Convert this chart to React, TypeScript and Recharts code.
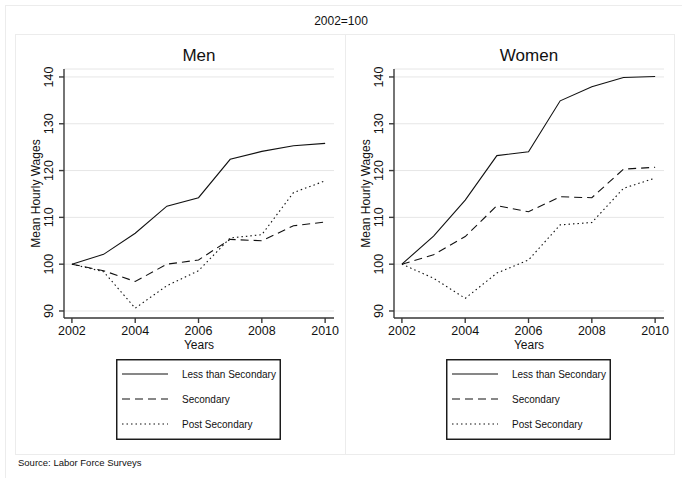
import React from 'react';
import { LineChart, Line, XAxis, YAxis, CartesianGrid } from 'recharts';

const years = [2002, 2003, 2004, 2005, 2006, 2007, 2008, 2009, 2010];

// wage index, 2002 = 100
const menLessSecondary = [100, 102.1, 106.6, 112.4, 114.2, 122.4, 124.1, 125.3, 125.8];
const menSecondary = [100, 98.6, 96.3, 100.0, 100.9, 105.3, 105.0, 108.2, 109.0];
const menPostSecondary = [100, 98.4, 90.6, 95.4, 98.6, 105.6, 106.3, 115.3, 117.8];

const womenLessSecondary = [100, 106.0, 113.7, 123.2, 124.0, 134.9, 137.9, 139.9, 140.1];
const womenSecondary = [100, 102.0, 105.9, 112.5, 111.2, 114.4, 114.2, 120.3, 120.7];
const womenPostSecondary = [100, 97.0, 92.7, 98.1, 100.9, 108.4, 108.9, 116.2, 118.4];

const xTicks = [2002, 2004, 2006, 2008, 2010];
const yTicks = [90, 100, 110, 120, 130, 140];

const seriesNames = ['Less than Secondary', 'Secondary', 'Post Secondary'];
const seriesDash = ['0', '8 5', '1.5 3'];

const FONT = '"Liberation Sans", Arial, Helvetica, sans-serif';
const INK = '#111';
const AXIS = '#3a3a3a';

function buildRows(a: number[], b: number[], c: number[]) {
  return years.map((year, i) => ({ year, s0: a[i], s1: b[i], s2: c[i] }));
}

const YTick = (props: any) => {
  const { x, y, payload } = props;
  return (
    <text
      x={x - 6}
      y={y}
      transform={`rotate(-90 ${x - 6} ${y})`}
      textAnchor="middle"
      fontSize={12.5}
      fontFamily={FONT}
      fill={INK}
    >
      {payload.value}
    </text>
  );
};

function Panel({ title, rows }: { title: string; rows: any[] }) {
  return (
    <div style={{ position: 'relative', width: 330, height: 421 }}>
      <div
        style={{
          position: 'absolute',
          top: 12,
          left: 49,
          width: 270,
          textAlign: 'center',
          fontSize: 17,
          fontFamily: FONT,
          color: INK,
        }}
      >
        {title}
      </div>
      <LineChart width={330} height={421} data={rows} margin={{ top: 35, right: 11, bottom: 97, left: 0 }}>
        <CartesianGrid vertical={false} stroke="#e6e6e6" strokeWidth={1} />
        <XAxis
          dataKey="year"
          type="number"
          domain={[2001.75, 2010.28]}
          ticks={xTicks}
          allowDataOverflow
          height={40}
          tickSize={5}
          tickMargin={3}
          stroke={AXIS}
          strokeWidth={1.4}
          tick={{ fill: INK, fontSize: 12.5, fontFamily: FONT }}
          label={{
            content: (p: any) => {
              const vb = p.viewBox;
              return (
                <text
                  x={vb.x + vb.width / 2}
                  y={vb.y + 27}
                  textAnchor="middle"
                  dominantBaseline="central"
                  fontSize={12}
                  fontFamily={FONT}
                  fill={INK}
                >
                  Years
                </text>
              );
            },
          }}
        />
        <YAxis
          type="number"
          domain={[88.5, 141.7]}
          ticks={yTicks}
          allowDataOverflow
          width={49}
          tickSize={5}
          tickMargin={0}
          stroke={AXIS}
          strokeWidth={1.4}
          tick={YTick}
          label={{
            content: (p: any) => {
              const vb = p.viewBox;
              const cy = vb.y + vb.height / 2;
              return (
                <text
                  x={21}
                  y={cy}
                  transform={`rotate(-90 21 ${cy})`}
                  textAnchor="middle"
                  dominantBaseline="central"
                  fontSize={12}
                  fontFamily={FONT}
                  fill={INK}
                >
                  Mean Hourly Wages
                </text>
              );
            },
          }}
        />
        {seriesNames.map((name, i) => (
          <Line
            key={name}
            name={name}
            dataKey={`s${i}`}
            type="linear"
            stroke={INK}
            strokeWidth={1.1}
            strokeDasharray={seriesDash[i]}
            dot={false}
            activeDot={false}
            isAnimationActive={false}
          />
        ))}
      </LineChart>
      <div style={{ position: 'absolute', left: 101, top: 325 }}>
        <svg width={165} height={81}>
          <rect x={0.75} y={0.75} width={163.5} height={79.5} fill="#fff" stroke={INK} strokeWidth={1.4} />
          {seriesNames.map((name, i) => {
            const ry = 15 + i * 25;
            return (
              <g key={name}>
                <line x1={6} x2={52} y1={ry} y2={ry} stroke={INK} strokeWidth={1.1} strokeDasharray={seriesDash[i]} />
                <text x={66} y={ry} dominantBaseline="central" fontSize={10} fontFamily={FONT} fill={INK}>
                  {name}
                </text>
              </g>
            );
          })}
        </svg>
      </div>
    </div>
  );
}

export default function App() {
  const menRows = buildRows(menLessSecondary, menSecondary, menPostSecondary);
  const womenRows = buildRows(womenLessSecondary, womenSecondary, womenPostSecondary);

  return (
    <div
      style={{
        position: 'absolute',
        left: 0,
        top: 0,
        width: 682,
        height: 478,
        background: '#fff',
        overflow: 'hidden',
        fontFamily: FONT,
      }}
    >
      <div
        style={{
          position: 'absolute',
          left: 5,
          top: 5,
          width: 700,
          height: 500,
          borderTop: '1px solid #ececec',
          borderLeft: '1px solid #ececec',
        }}
      />
      <div
        style={{
          position: 'absolute',
          top: 14,
          left: 0,
          width: 682,
          textAlign: 'center',
          fontSize: 12,
          color: INK,
        }}
      >
        2002=100
      </div>
      <div
        style={{
          position: 'absolute',
          left: 15,
          top: 34,
          width: 660,
          height: 421,
          border: '1px solid #ececec',
          boxSizing: 'border-box',
        }}
      />
      <div
        style={{
          position: 'absolute',
          left: 345,
          top: 34,
          width: 1,
          height: 421,
          background: '#ececec',
        }}
      />
      <div style={{ position: 'absolute', left: 15, top: 34 }}>
        <Panel title="Men" rows={menRows} />
      </div>
      <div style={{ position: 'absolute', left: 345, top: 34 }}>
        <Panel title="Women" rows={womenRows} />
      </div>
      <div
        style={{
          position: 'absolute',
          left: 18,
          top: 457,
          fontSize: 9.5,
          color: INK,
        }}
      >
        Source: Labor Force Surveys
      </div>
    </div>
  );
}
